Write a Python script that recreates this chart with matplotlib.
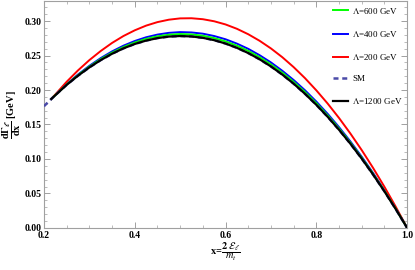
import matplotlib
matplotlib.use("Agg")
import matplotlib.pyplot as plt
from matplotlib.ticker import MultipleLocator, FormatStrFormatter

# lepton energy fraction grid
x_np = [0.216, 0.25, 0.275, 0.30, 0.325, 0.35, 0.375, 0.40, 0.425, 0.45, 0.475,
        0.50, 0.525, 0.55, 0.575, 0.60, 0.625, 0.65, 0.675, 0.70, 0.725,
        0.75, 0.775, 0.80, 0.825, 0.85, 0.875, 0.90, 0.925, 0.95, 0.975, 1.00]
x_sm = [0.20, 0.225] + x_np[1:]

y_600 = [0.1870, 0.2080, 0.2217, 0.2340, 0.2449, 0.2543, 0.2624, 0.2690, 0.2742, 0.2779, 0.2802,
         0.2812, 0.2806, 0.2787, 0.2753, 0.2705, 0.2643, 0.2567, 0.2476, 0.2371, 0.2252,
         0.2118, 0.1971, 0.1809, 0.1632, 0.1442, 0.1237, 0.1018, 0.0785, 0.0538, 0.0276, 0.0]
y_400 = [0.1870, 0.2084, 0.2225, 0.2351, 0.2463, 0.2560, 0.2643, 0.2711, 0.2765, 0.2804, 0.2829,
         0.2840, 0.2835, 0.2817, 0.2783, 0.2736, 0.2673, 0.2597, 0.2505, 0.2400, 0.2279,
         0.2145, 0.1996, 0.1832, 0.1654, 0.1461, 0.1254, 0.1032, 0.0796, 0.0545, 0.0280, 0.0]
y_200 = [0.1870, 0.2120, 0.2285, 0.2434, 0.2566, 0.2683, 0.2783, 0.2866, 0.2934, 0.2985, 0.3020,
         0.3039, 0.3041, 0.3027, 0.2997, 0.2951, 0.2888, 0.2809, 0.2714, 0.2603, 0.2476,
         0.2332, 0.2172, 0.1995, 0.1803, 0.1594, 0.1369, 0.1128, 0.0870, 0.0596, 0.0306, 0.0]
y_1200 = [0.1870, 0.2075, 0.2208, 0.2328, 0.2434, 0.2526, 0.2604, 0.2668, 0.2717, 0.2753, 0.2775,
          0.2783, 0.2777, 0.2757, 0.2723, 0.2674, 0.2612, 0.2536, 0.2446, 0.2342, 0.2224,
          0.2092, 0.1945, 0.1785, 0.1611, 0.1423, 0.1221, 0.1005, 0.0774, 0.0530, 0.0272, 0.0]
y_sm = [0.1765, 0.1927] + y_1200[1:]

plt.rcParams['font.family'] = ['Liberation Serif', 'DejaVu Serif']
plt.rcParams['mathtext.fontset'] = 'stix'

fig = plt.figure(figsize=(4.15, 2.7), dpi=100)
ax = fig.add_axes([0.106, 0.156, 0.875, 0.84])

ax.plot(x_np, y_600, color='#00ff00', lw=1.4, label=r'$\Lambda$=600 GeV', zorder=3)
ax.plot(x_np, y_400, color='#0000ff', lw=1.4, label=r'$\Lambda$=400 GeV', zorder=2)
ax.plot(x_np, y_200, color='#ff0000', lw=1.4, label=r'$\Lambda$=200 GeV', zorder=2)
ax.plot(x_sm, y_sm, color='#4a4aa8', lw=1.8, ls=(0, (2, 1.5)), label='SM', zorder=3)
ax.plot(x_np, y_1200, color='black', lw=1.6, label=r'$\Lambda$=1200 GeV', zorder=4)

ax.set_xlim(0.2, 1.0)
ax.set_ylim(0, 0.329)
ax.xaxis.set_major_locator(MultipleLocator(0.2))
ax.xaxis.set_minor_locator(MultipleLocator(0.05))
ax.yaxis.set_major_locator(MultipleLocator(0.05))
ax.yaxis.set_minor_locator(MultipleLocator(0.01))
ax.xaxis.set_major_formatter(FormatStrFormatter('%.1f'))
ax.yaxis.set_major_formatter(FormatStrFormatter('%.2f'))

for s in ax.spines.values():
    s.set_color('#a0a0a0')
    s.set_linewidth(0.8)
ax.tick_params(which='both', direction='in', top=True, right=True, color='#a0a0a0')
ax.tick_params(which='major', length=4, width=0.7, labelsize=7, pad=2)
ax.tick_params(which='minor', length=2, width=0.5)
for lab in ax.get_xticklabels() + ax.get_yticklabels():
    lab.set_fontweight('bold')

ax.set_ylabel(r'$\mathbf{\dfrac{d\Gamma_{\ell}}{dx}}$ [GeV]', fontsize=7.5, fontweight='bold', labelpad=1)
ax.set_xlabel(r'$\mathbf{x}$=$\dfrac{\mathbf{2}\;\mathcal{E}_{\ell}}{m_t}$', fontsize=7.5, fontweight='bold', labelpad=1)

leg = ax.legend(loc='upper right', frameon=False, fontsize=6.5, labelspacing=1.45,
                handlelength=1.6, handletextpad=0.5, borderaxespad=0.1)

fig.savefig('out.png', dpi=100)
